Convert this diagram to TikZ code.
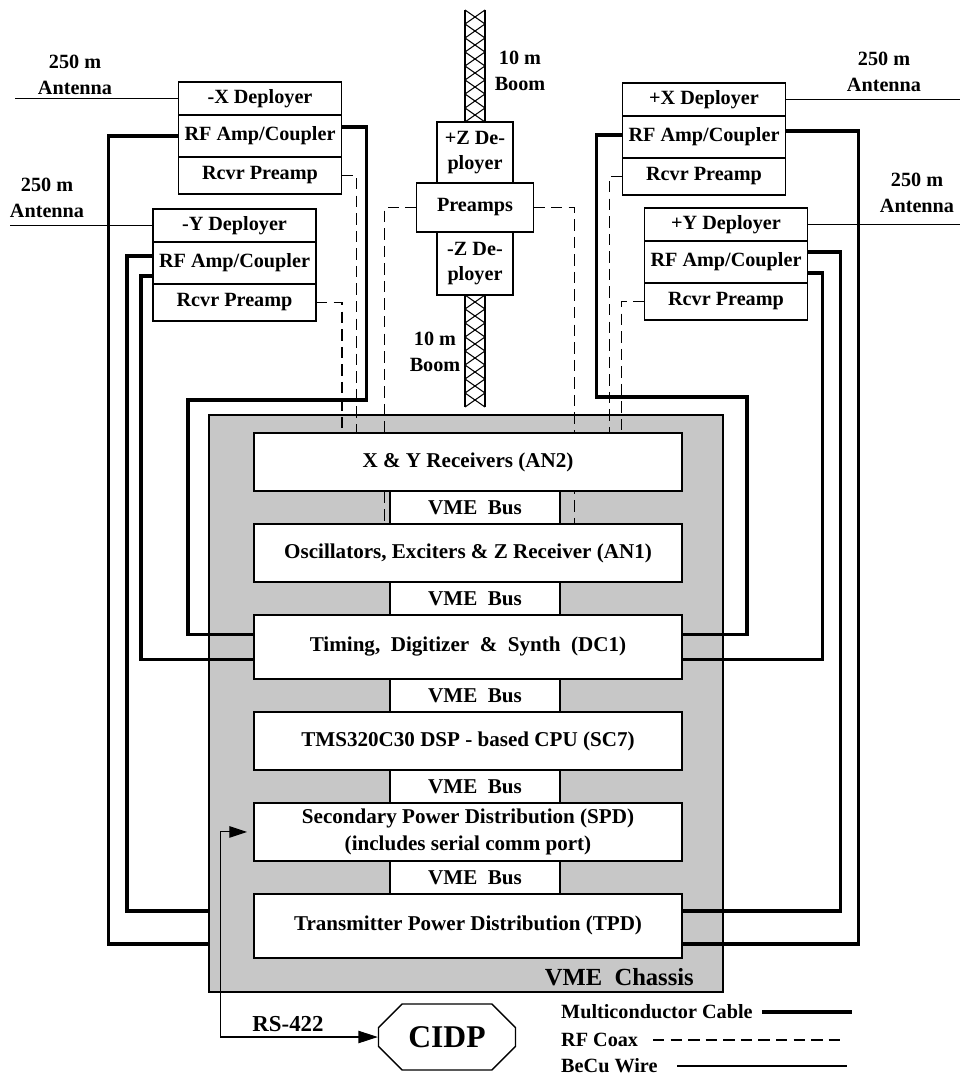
\documentclass[tikz,border=0pt]{standalone}
\usepackage{fontspec}
\setmainfont{Liberation Serif}
\usetikzlibrary{positioning,calc,arrows.meta,shapes.misc,backgrounds}

\tikzset{
  devbox/.style={draw, fill=white, line width=0.8pt, minimum width=3.26cm, inner sep=0pt,
    outer sep=0pt, font=\bfseries\fontsize{11.5}{13}\selectfont},
  deprow/.style={devbox, minimum height=0.66cm},
  rfrow/.style={devbox, minimum height=0.84cm},
  rcvrow/.style={devbox, minimum height=0.74cm},
  zbox/.style={draw, fill=white, line width=0.8pt, minimum width=1.52cm, inner sep=0pt,
    outer sep=0pt, align=center, font=\bfseries\fontsize{11.5}{14}\selectfont},
  module/.style={draw, fill=white, line width=0.8pt, minimum width=8.56cm, minimum height=1.16cm,
    inner sep=0pt, outer sep=0pt, align=center, font=\bfseries\fontsize{12}{15.5}\selectfont},
  bus/.style={module, minimum width=3.4cm, minimum height=0.66cm},
  chassisbox/.style={draw, fill=black!22, line width=1pt, minimum width=10.28cm,
    minimum height=11.54cm, inner sep=0pt, outer sep=0pt},
  cable/.style={line width=2.2pt},
  coax/.style={line width=0.7pt, dash pattern=on 6.5pt off 3.5pt},
  wire/.style={line width=0.6pt},
  boomside/.style={line width=1.6pt},
  serial/.style={wire, {Triangle[length=11pt,width=7pt]}-{Triangle[length=10pt,width=6.5pt]},
    shorten >=4pt},
  lbl/.style={align=center, font=\bfseries\fontsize{11.5}{14.7}\selectfont},
}

\begin{document}
\begin{tikzpicture}[x=0.02cm, y=-0.02cm]
\useasboundingbox (0,0) rectangle (960,1077);

% antenna labels
\node[lbl] (mxantlbl) at (75,75) {250 m\\Antenna};
\node[lbl] (myantlbl) at (47,198) {250 m\\Antenna};
\node[lbl] (pxantlbl) at (884,71.5) {250 m\\Antenna};
\node[lbl] (pyantlbl) at (917,193) {250 m\\Antenna};
\node[lbl] (upboomlbl) at (520,70.5) {10 m\\Boom};
\node[lbl] (loboomlbl) at (435,351.5) {10 m\\Boom};

% boom lattice
\foreach \k in {0,...,7} {
  \draw[wire] (465,10+14*\k) -- (485,24+14*\k) (485,10+14*\k) -- (465,24+14*\k);
  \draw[wire] (465,295+14*\k) -- (485,309+14*\k) (485,295+14*\k) -- (465,309+14*\k);
}
\draw[boomside] (465,10) -- (465,122) (485,10) -- (485,122);
\draw[boomside] (465,295) -- (465,407) (485,295) -- (485,407);

% Z deployers
\node[zbox, minimum height=1.22cm] (pzdep) at (475,152.5) {+Z De-\\ployer};
\node[zbox, minimum width=2.34cm, minimum height=0.98cm, below=0pt of pzdep] (preamps) {Preamps};
\node[zbox, minimum height=1.26cm, below=0pt of preamps] (mzdep) {-Z De-\\ployer};

% X and Y deployers
\node[deprow] (mxdep) at (260,98.5) {-X Deployer};
\node[rfrow, below=0pt of mxdep] (mxrf) {RF Amp/Coupler};
\node[rcvrow, below=0pt of mxrf] (mxrcv) {Rcvr Preamp};

\node[deprow] (mydep) at (234.5,225.5) {-Y Deployer};
\node[rfrow, below=0pt of mydep] (myrf) {RF Amp/Coupler};
\node[rcvrow, below=0pt of myrf] (myrcv) {Rcvr Preamp};

\node[deprow] (pxdep) at (704,99.5) {+X Deployer};
\node[rfrow, below=0pt of pxdep] (pxrf) {RF Amp/Coupler};
\node[rcvrow, below=0pt of pxrf] (pxrcv) {Rcvr Preamp};

\node[deprow] (pydep) at (726,224.5) {+Y Deployer};
\node[rfrow, below=0pt of pydep] (pyrf) {RF Amp/Coupler};
\node[rcvrow, below=0pt of pyrf] (pyrcv) {Rcvr Preamp};

% antennas
\coordinate (mxant) at (15,98.5);
\coordinate (myant) at (10,225.5);
\coordinate (pxant) at (960,99.5);
\coordinate (pyant) at (960,224.5);
\draw[wire] (mxdep.west) -- (mxant);
\draw[wire] (mydep.west) -- (myant);
\draw[wire] (pxdep.east) -- (pxant);
\draw[wire] (pydep.east) -- (pyant);

% VME modules
\node[module] (xy) at (468,462) {X \& Y Receivers (AN2)};
\node[bus, below=0pt of xy, xshift=0.14cm] (bus1) {VME\ \ Bus};
\node[module, below=0pt of bus1, xshift=-0.14cm] (osc) {Oscillators, Exciters \& Z Receiver (AN1)};
\node[bus, below=0pt of osc, xshift=0.14cm] (bus2) {VME\ \ Bus};
\node[module, minimum height=1.28cm, below=0pt of bus2, xshift=-0.14cm] (dc1) {Timing, \ Digitizer \ \& \ Synth \ (DC1)};
\node[bus, below=0pt of dc1, xshift=0.14cm] (bus3) {VME\ \ Bus};
\node[module, below=0pt of bus3, xshift=-0.14cm] (tms) {TMS320C30 DSP - based CPU (SC7)};
\node[bus, below=0pt of tms, xshift=0.14cm] (bus4) {VME\ \ Bus};
\node[module, below=0pt of bus4, xshift=-0.14cm] (spd) {Secondary Power Distribution (SPD)\\(includes serial comm port)};
\node[bus, below=0pt of spd, xshift=0.14cm] (bus5) {VME\ \ Bus};
\node[module, minimum height=1.28cm, below=0pt of bus5, xshift=-0.14cm] (tpd) {Transmitter Power Distribution (TPD)};
\node[font=\bfseries\fontsize{14}{16}\selectfont, anchor=east] (chassislbl) at (700,977) {VME\ \ Chassis};

% cable ends on the modules
\coordinate (dc1hi) at ($(dc1.west)+(0,-12.5)$);
\coordinate (dc1lo) at ($(dc1.west)+(0,12.5)$);
\coordinate (dc1hiR) at ($(dc1.east)+(0,-12.5)$);
\coordinate (dc1loR) at ($(dc1.east)+(0,12.5)$);
\coordinate (tpdhi) at ($(tpd.west)+(0,-15)$);
\coordinate (tpdlo) at ($(tpd.west)+(0,18)$);
\coordinate (tpdhiR) at ($(tpd.east)+(0,-15)$);
\coordinate (tpdloR) at ($(tpd.east)+(0,18)$);
\coordinate (mxturn) at (188,400);
\coordinate (pxturn) at (747,397);

% coax turning points
\coordinate (mxc) at ($(mxrcv.east)+(15,0)$);
\coordinate (myc) at ($(myrcv.east)+(26,0)$);
\coordinate (pxc) at ($(pxrcv.west)+(-13,0)$);
\coordinate (pyc) at ($(pyrcv.west)+(-23,0)$);
\coordinate (zlc) at ($(preamps.west)+(-32,0)$);
\coordinate (zrc) at ($(preamps.east)+(41,0)$);

\begin{scope}[on background layer]
  \node[chassisbox] (chassis) at (466,703.5) {};
  % RF coax
  \draw[coax] (mxrcv.east) -- (mxc) -- (mxc |- xy.north);
  \draw[coax] (myrcv.east) -- (myc) -- (myc |- xy.north);
  \draw[coax] (pxrcv.west) -- (pxc) -- (pxc |- xy.north);
  \draw[coax] (pyrcv.west) -- (pyc) -- (pyc |- xy.north);
  \draw[coax] (preamps.west) -- (zlc) -- (zlc |- osc.north);
  \draw[coax] (preamps.east) -- (zrc) -- (zrc |- osc.north);
  % multiconductor cables
  \draw[cable] (mxrf.west) -- ++(-70,0) |- (chassis.west |- tpdlo);
  \draw[cable] ($(mxrf.east)+(0,-9)$) -- ++(25,0) |- (mxturn) |- (dc1hi);
  \draw[cable] ($(myrf.west)+(0,-7)$) -- ++(-26,0) |- (chassis.west |- tpdhi);
  \draw[cable] ($(myrf.west)+(0,13)$) -- ++(-12,0) |- (dc1lo);
  \draw[cable] ($(pxrf.west)+(0,-2)$) -- ++(-26,0) |- (pxturn) |- (dc1hiR);
  \draw[cable] ($(pxrf.east)+(0,-6)$) -- ++(73,0) |- (tpdloR);
  \draw[cable] ($(pyrf.east)+(0,-10)$) -- ++(33,0) |- (tpdhiR);
  \draw[cable] ($(pyrf.east)+(0,11)$) -- ++(15,0) |- (dc1loR);
\end{scope}

% CIDP and serial link
\node[draw, line width=0.8pt, chamfered rectangle, chamfered rectangle xsep=0.4cm,
  chamfered rectangle ysep=0.26cm, minimum width=2.74cm, minimum height=1.32cm, inner sep=0pt,
  font=\bfseries\fontsize{18}{20}\selectfont] (cidp) at (447,1037) {CIDP};
\draw[serial] (cidp.west) -- ++(-157,0) |- (spd.west);
\node[lbl, font=\bfseries\fontsize{13}{15}\selectfont] (rslbl) at (288,1024) {RS-422};

% legend
\node[lbl, anchor=west] (lgcable) at (555,1012) {Multiconductor Cable};
\node[lbl, anchor=west] (lgcoax) at (555,1040) {RF Coax};
\node[lbl, anchor=west] (lgwire) at (555,1066) {BeCu Wire};
\coordinate (lgcableA) at (762,1012);
\coordinate (lgcableB) at (852,1012);
\coordinate (lgcoaxA) at (653,1040);
\coordinate (lgcoaxB) at (842,1040);
\coordinate (lgwireA) at (677,1066);
\coordinate (lgwireB) at (847,1066);
\draw[cable] (lgcableA) -- (lgcableB);
\draw[coax] (lgcoaxA) -- (lgcoaxB);
\draw[wire] (lgwireA) -- (lgwireB);
\end{tikzpicture}
\end{document}
